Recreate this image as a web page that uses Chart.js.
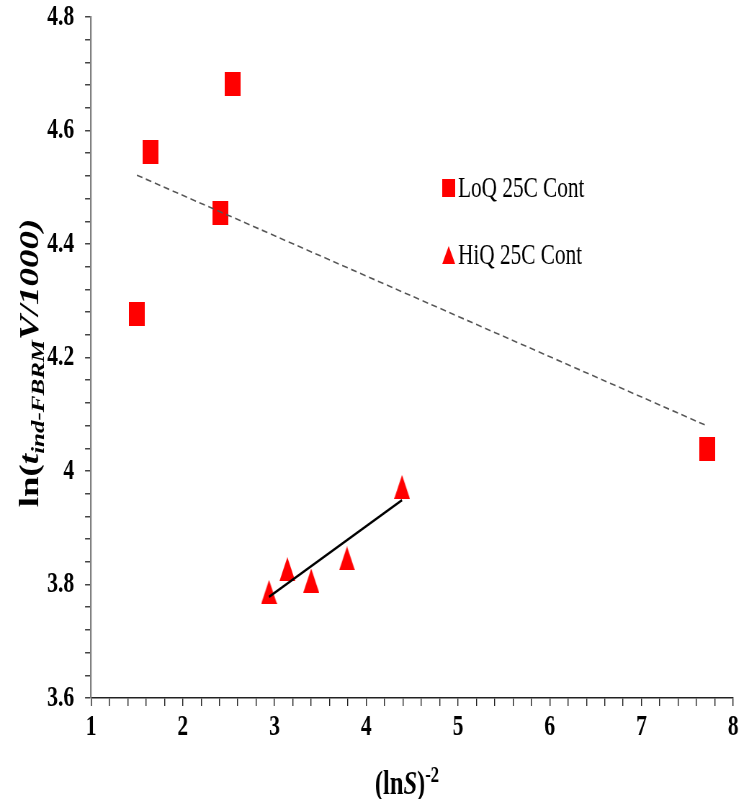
<!DOCTYPE html>
<html>
<head>
<meta charset="utf-8">
<script src="https://cdn.jsdelivr.net/npm/chart.js@4.4.0/dist/chart.umd.min.js"></script>
<style>
  html, body { margin: 0; padding: 0; background: #fff; }
  #frame { width: 749px; height: 799px; overflow: hidden; }
  /* the plot is laid out wide and squeezed horizontally, like the narrow serif look of the figure */
  #wrap { width: 1040px; height: 799px; transform: scaleX(0.7202); transform-origin: 0 0; }
</style>
</head>
<body>
<div id="frame"><div id="wrap"><canvas id="chart"></canvas></div></div>
<script>
// LoQ 25C Cont
const loqX = [1.50, 1.65, 2.41, 2.54, 7.72];
const loqY = [4.277, 4.562, 4.455, 4.682, 4.039];
// HiQ 25C Cont
const hiqX = [2.94, 3.14, 3.40, 3.79, 4.39];
const hiqY = [3.787, 3.827, 3.807, 3.846, 3.972];

const xTickLabels = [1, 2, 3, 4, 5, 6, 7, 8];
const yTickLabels = ['3.6', '3.8', '4', '4.2', '4.4', '4.6', '4.8'];

const SERIF = '"Liberation Serif", "Times New Roman", serif';

function toPoints(xs, ys) {
    return xs.map((x, i) => ({ x: x, y: ys[i] }));
}

// least squares fit, drawn between the smallest and largest x
function trendLine(xs, ys) {
    const n = xs.length;
    const mx = xs.reduce((a, b) => a + b, 0) / n;
    const my = ys.reduce((a, b) => a + b, 0) / n;
    let sxy = 0, sxx = 0;
    xs.forEach((x, i) => {
        sxy += (x - mx) * (ys[i] - my);
        sxx += (x - mx) * (x - mx);
    });
    const b = sxy / sxx;
    const a = my - b * mx;
    const x0 = Math.min(...xs), x1 = Math.max(...xs);
    return [{ x: x0, y: a + b * x0 }, { x: x1, y: a + b * x1 }];
}

function makeMarker(shape, w, h) {
    const c = document.createElement('canvas');
    c.width = w;
    c.height = h;
    const g = c.getContext('2d');
    g.fillStyle = '#ff0000';
    if (shape === 'rect') {
        g.fillRect(0, 0, w, h);
    } else {
        g.beginPath();
        g.moveTo(w / 2, 0);
        g.lineTo(w, h);
        g.lineTo(0, h);
        g.closePath();
        g.fill();
    }
    return c;
}

const rectMark = makeMarker('rect', 22, 24);
const triMark = makeMarker('tri', 22, 24);
const rectKey = makeMarker('rect', 18, 18);
const triKey = makeMarker('tri', 18, 18);

function isMajor(v, step) {
    const q = v / step;
    return Math.abs(q - Math.round(q)) < 1e-6;
}

// draw a row of differently styled text pieces centred on (0, 0)
function drawRuns(ctx, runs) {
    let total = 0;
    runs.forEach(r => {
        ctx.font = r.font;
        r.w = ctx.measureText(r.text).width;
        total += r.w;
    });
    let x = -total / 2;
    runs.forEach(r => {
        ctx.font = r.font;
        ctx.fillText(r.text, x, r.dy || 0);
        x += r.w;
    });
}

const annotations = {
    id: 'annotations',
    afterDraw(chart) {
        const ctx = chart.ctx;
        ctx.save();
        ctx.fillStyle = '#000';
        ctx.textAlign = 'left';
        ctx.textBaseline = 'alphabetic';

        // y axis title
        ctx.save();
        ctx.translate(53, 363);
        ctx.rotate(-Math.PI / 2);
        drawRuns(ctx, [
            { text: 'ln(', font: 'bold 37px ' + SERIF },
            { text: 't', font: 'italic bold 37px ' + SERIF },
            { text: 'ind-FBRM', font: 'italic bold 25px ' + SERIF, dy: 8 },
            { text: 'V/1000)', font: 'italic bold 37px ' + SERIF }
        ]);
        ctx.restore();

        // x axis title
        ctx.save();
        ctx.translate(565, 794);
        drawRuns(ctx, [
            { text: '(ln', font: 'bold 34px ' + SERIF },
            { text: 'S', font: 'italic bold 34px ' + SERIF },
            { text: ')', font: 'bold 34px ' + SERIF },
            { text: '-2', font: 'bold 23px ' + SERIF, dy: -12 }
        ]);
        ctx.restore();

        // legend
        ctx.font = '29.5px ' + SERIF;
        ctx.drawImage(rectKey, 614, 179);
        ctx.fillText('LoQ 25C Cont', 636, 197);
        ctx.drawImage(triKey, 614, 246);
        ctx.fillText('HiQ 25C Cont', 636, 264);
        ctx.restore();
    }
};

new Chart(document.getElementById('chart'), {
    type: 'scatter',
    data: {
        datasets: [
            {
                label: 'LoQ trend',
                data: trendLine(loqX, loqY),
                showLine: true,
                borderColor: '#555555',
                borderWidth: 1.6,
                borderDash: [8, 5],
                pointRadius: 0,
                order: 0
            },
            {
                label: 'HiQ trend',
                data: trendLine(hiqX, hiqY),
                showLine: true,
                borderColor: '#000000',
                borderWidth: 2.6,
                pointRadius: 0,
                order: 0
            },
            {
                label: 'LoQ 25C Cont',
                data: toPoints(loqX, loqY),
                pointStyle: rectMark,
                order: 1
            },
            {
                label: 'HiQ 25C Cont',
                data: toPoints(hiqX, hiqY),
                pointStyle: triMark,
                order: 1
            }
        ]
    },
    options: {
        responsive: true,
        maintainAspectRatio: false,
        animation: false,
        layout: { padding: { top: 17, right: 22, bottom: 0, left: 0 } },
        plugins: {
            legend: { display: false },
            tooltip: { enabled: false }
        },
        scales: {
            x: {
                type: 'linear',
                min: 1,
                max: 8,
                afterFit: scale => {
                    scale.height = 101;
                    scale.paddingLeft = 0;
                    scale.paddingRight = 0;
                },
                border: { display: true, color: '#222222', width: 1.5 },
                grid: {
                    drawOnChartArea: false,
                    drawTicks: true,
                    tickLength: 8,
                    color: '#222222',
                    lineWidth: 1.4
                },
                ticks: {
                    stepSize: 0.2,
                    autoSkip: false,
                    maxRotation: 0,
                    padding: 3,
                    color: '#000',
                    font: { family: SERIF, size: 30, weight: 'bold' },
                    callback: v => isMajor(v, 1) ? String(xTickLabels[Math.round(v) - 1]) : ''
                }
            },
            y: {
                type: 'linear',
                min: 3.6,
                max: 4.8,
                afterFit: scale => {
                    scale.width = 126.4;
                    scale.paddingTop = 0;
                    scale.paddingBottom = 0;
                },
                border: { display: true, color: '#808080', width: 2.2 },
                grid: {
                    drawOnChartArea: false,
                    drawTicks: true,
                    tickLength: 8.3,
                    color: '#444444',
                    lineWidth: 1.5
                },
                ticks: {
                    stepSize: 0.04,
                    autoSkip: false,
                    padding: 15,
                    color: '#000',
                    font: { family: SERIF, size: 30, weight: 'bold' },
                    callback: v => isMajor(v - 3.6, 0.2) ? yTickLabels[Math.round((v - 3.6) / 0.2)] : ''
                }
            }
        }
    },
    plugins: [annotations]
});
</script>
</body>
</html>
